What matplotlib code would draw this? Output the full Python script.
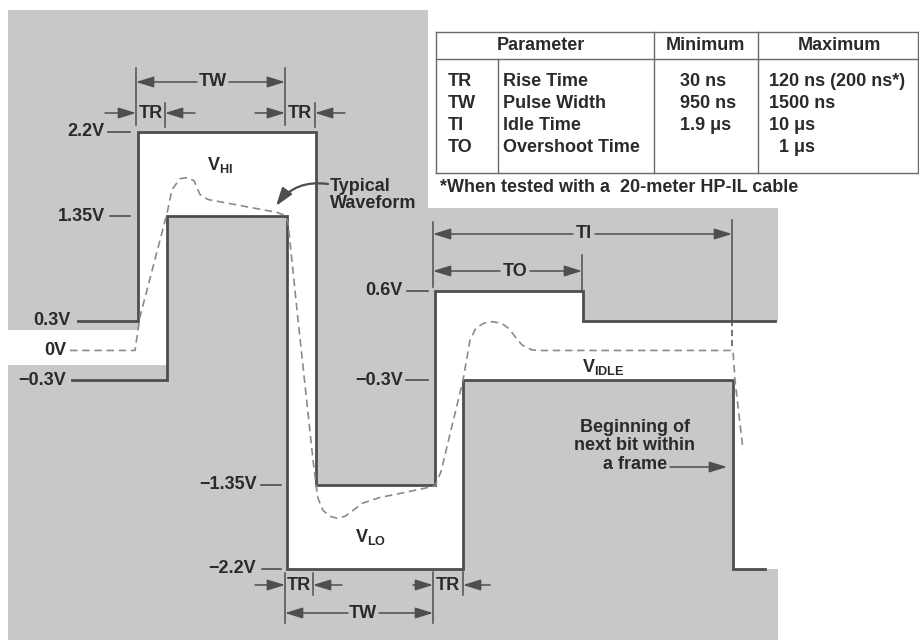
import matplotlib
matplotlib.use('Agg')
import matplotlib.pyplot as plt

plt.rcParams['font.family'] = ['Liberation Sans', 'DejaVu Sans']
plt.rcParams['font.weight'] = 'bold'
plt.rcParams['mathtext.fontset'] = 'custom'
plt.rcParams['mathtext.rm'] = 'Liberation Sans:bold'

GRAY = '#c8c8c8'
LINE = '#4e4e4e'
TXT = '#2a2a2a'
DASH = '#8a8a8a'

# time axis is in drawing units (not to scale), voltage in volts
# upper (maximum) limit of the allowed envelope
hi_t = [78, 138, 138, 316, 316, 435, 435, 583, 583, 775]
hi_v = [0.3, 0.3, 2.2, 2.2, -1.35, -1.35, 0.6, 0.6, 0.3, 0.3]
# lower (minimum) limit
lo_t = [72, 167, 167, 287, 287, 463, 463, 733, 733, 765]
lo_v = [-0.3, -0.3, 1.35, 1.35, -2.2, -2.2, -0.3, -0.3, -2.2, -2.2]

# white (allowed) region, step-post
env_t = [138, 167, 287, 316, 435, 463, 583, 733, 778]
env_hi = [2.2, 2.2, 2.2, -1.35, 0.6, 0.6, 0.3, 0.3, 0.3]
env_lo = [-0.146, 1.35, -2.2, -2.2, -2.2, -0.3, -0.3, -2.2, -2.2]

# typical waveform (dashed)
typ_t = [70, 135, 140, 167, 172, 180, 187, 194, 200, 208, 240, 277, 285, 288,
         298, 313, 316, 318, 323, 330, 337, 345, 352, 362, 380, 400, 435, 441,
         463, 470, 476, 484, 493, 502, 509, 515, 522, 532, 540, 733, 735, 743]
typ_v = [0.0, 0.0, 0.34, 1.38, 1.62, 1.73, 1.74, 1.71, 1.57, 1.52, 1.46, 1.39,
         1.36, 1.29, 0.31, -1.10, -1.355, -1.49, -1.61, -1.67, -1.69, -1.67,
         -1.62, -1.54, -1.48, -1.44, -1.365, -1.22, -0.30, 0.105, 0.226, 0.276,
         0.29, 0.27, 0.22, 0.14, 0.055, 0.005, 0.0, 0.0, -0.30, -1.0]

# voltage level labels: text, value, text right edge, dash start, dash end
lvl_text = ['2.2V', '1.35V', '0.3V', '0V', '\u22120.3V', '0.6V', '\u22120.3V', '\u22121.35V', '\u22122.2V']
lvl_v = [2.2, 1.35, 0.3, 0.0, -0.3, 0.6, -0.3, -1.35, -2.2]
lvl_x = [104, 105, 70, 66, 66, 402, 403, 257, 256]
lvl_d0 = [108, 110, None, None, None, 407, 406, 261, 262]
lvl_d1 = [130, 130, None, None, None, 428, 428, 281, 281]

# table
par_code = ['TR', 'TW', 'TI', 'TO']
par_name = ['Rise Time', 'Pulse Width', 'Idle Time', 'Overshoot Time']
par_min = ['30 ns', '950 ns', '1.9 \u03bcs', '']
par_max = ['120 ns (200 ns*)', '1500 ns', '10 \u03bcs', '  1 \u03bcs']


def v(py):
    # pixel row -> volts (2.2 V at row 132, 99.3 px per volt)
    return 2.2 - (py - 132) / 99.3


fig = plt.figure(figsize=(9.19, 6.40), dpi=100)
ax = fig.add_axes([0, 0, 1, 1])
ax.set_xlim(0, 919)
ax.set_ylim(v(640), v(0))
ax.axis('off')

# gray background block
ax.fill([8, 428, 428, 778, 778, 8], [v(10), v(10), v(208), v(208), v(641), v(641)],
        color=GRAY, lw=0, zorder=0)
ax.fill_between(env_t, env_hi, env_lo, step='post', color='white', lw=0, zorder=1)
ax.fill_between([0, 167], [v(330)] * 2, [v(365)] * 2, color='white', lw=0, zorder=1)

ax.plot(hi_t, hi_v, color=LINE, lw=2.0, solid_joinstyle='miter', zorder=3)
ax.plot(lo_t, lo_v, color=LINE, lw=2.0, solid_joinstyle='miter', zorder=3)
ax.plot(typ_t, typ_v, color=DASH, lw=1.2, ls=(0, (4.5, 2.8)), zorder=4)

tk = dict(color=TXT, fontsize=13, fontweight='bold')
for s, lv, lx, d0, d1 in zip(lvl_text, lvl_v, lvl_x, lvl_d0, lvl_d1):
    ax.text(lx, lv, s, ha='right', va='center', **tk)
    if d0 is not None:
        ax.plot([d0, d1], [lv, lv], color=LINE, lw=1.2)

dim = dict(color=LINE, lw=1.1)
arr = dict(arrowstyle='-|>,head_length=0.9,head_width=0.28', color=LINE, lw=1.1,
           mutation_scale=12, shrinkA=0, shrinkB=0)


def vline(x, y0, y1, ls='-'):
    ax.plot([x, x], [v(y0), v(y1)], ls=ls, **dim)


def arrow(x0, x1, y):
    ax.annotate('', xy=(x1, v(y)), xytext=(x0, v(y)), arrowprops=arr)


# top TR / TW dimensions
vline(136, 68, 125)
vline(165, 103, 127)
vline(285, 68, 125)
vline(315, 103, 127)
arrow(197, 136, 82)
arrow(229, 285, 82)
ax.text(213, v(82), 'TW', ha='center', va='center', **tk)
arrow(105, 136, 113)
arrow(195, 165, 113)
ax.text(150.5, v(113), 'TR', ha='center', va='center', **tk)
arrow(255, 285, 113)
arrow(345, 315, 113)
ax.text(300, v(113), 'TR', ha='center', va='center', **tk)

# bottom TR / TW dimensions
vline(285, 573, 623)
vline(313, 573, 595)
vline(433, 572, 623)
vline(463, 572, 595)
arrow(255, 285, 585)
arrow(342, 313, 585)
ax.text(299, v(585), 'TR', ha='center', va='center', **tk)
arrow(413, 433, 585)
arrow(490, 463, 585)
ax.text(448, v(585), 'TR', ha='center', va='center', **tk)
arrow(348, 285, 613)
arrow(379, 433, 613)
ax.text(363, v(613), 'TW', ha='center', va='center', **tk)

# TI / TO dimensions
vline(433, 222, 287)
vline(582, 255, 290)
vline(732, 220, 320)
vline(732, 320, 350, ls=(0, (4, 2.5)))
arrow(573, 433, 234)
arrow(595, 732, 234)
ax.text(584, v(234), 'TI', ha='center', va='center', **tk)
arrow(500, 433, 271)
arrow(530, 582, 271)
ax.text(515, v(271), 'TO', ha='center', va='center', **tk)

# region names
ax.text(220, v(165), r'$\mathrm{V}_{\mathrm{HI}}$', ha='center', va='center', **tk)
ax.text(371, v(537), r'$\mathrm{V}_{\mathrm{LO}}$', ha='center', va='center', **tk)
ax.text(603, v(367), r'$\mathrm{V}_{\mathrm{IDLE}}$', ha='center', va='center', **tk)

ax.text(330, v(195), 'Typical\nWaveform', ha='left', va='center', linespacing=1.05, **tk)
ax.annotate('', xy=(276, v(206)), xytext=(328, v(184)),
            arrowprops=dict(arrowstyle='-|>,head_length=0.9,head_width=0.3', color=LINE,
                            lw=1.6, mutation_scale=12, shrinkA=0, shrinkB=0,
                            connectionstyle='arc3,rad=0.3'))

ax.text(635, v(446), 'Beginning of\nnext bit within\na frame', ha='center', va='center',
        linespacing=1.15, **tk)
arrow(670, 727, 467)

# parameter table (pixel layout)
tb = fig.add_axes([0, 0, 1, 1], facecolor='none')
tb.set_xlim(0, 919)
tb.set_ylim(640, 0)
tb.axis('off')
tl = dict(color='#6a6a6a', lw=1.0)
for yy in (32, 59, 173):
    tb.plot([436, 919], [yy, yy], **tl)
tb.plot([436, 436], [32, 173], **tl)
tb.plot([498, 498], [59, 173], **tl)
tb.plot([654, 654], [32, 173], **tl)
tb.plot([758, 758], [32, 173], **tl)
tb.plot([918, 918], [32, 173], **tl)

tb.text(541, 46, 'Parameter', ha='center', va='center', **tk)
tb.text(705, 46, 'Minimum', ha='center', va='center', **tk)
tb.text(839, 46, 'Maximum', ha='center', va='center', **tk)
for i, (c, n, mn, mx) in enumerate(zip(par_code, par_name, par_min, par_max)):
    yy = 82 + i * 21.7
    tb.text(448, yy, c, ha='left', va='center', **tk)
    tb.text(503, yy, n, ha='left', va='center', **tk)
    tb.text(680, yy, mn, ha='left', va='center', **tk)
    tb.text(769, yy, mx, ha='left', va='center', **tk)
tb.text(440, 188, '*When tested with a  20-meter HP-IL cable', ha='left', va='center', **tk)

fig.savefig('out.png', dpi=100, facecolor='white')
